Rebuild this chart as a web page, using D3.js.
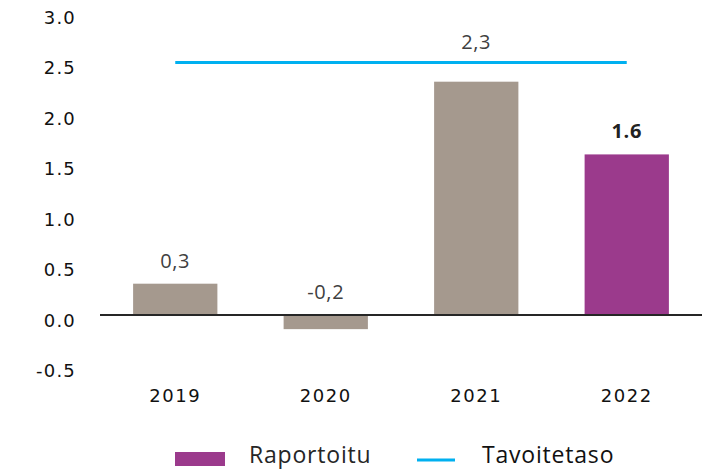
<!DOCTYPE html>
<html>
<head>
<meta charset="utf-8">
<script src="https://cdn.jsdelivr.net/npm/d3@7"></script>
<style>
  body { margin: 0; background: #fff; }
  svg { display: block; }
</style>
</head>
<body>
<div id="chart"></div>
<script>
const w = 706;
const h = 471;

// data
const years = ["2019", "2020", "2021", "2022"];
const reported = [0.31, -0.14, 2.31, 1.59];
const valueLabels = ["0,3", "-0,2", "2,3", "1.6"];
const target = [2.5, 2.5, 2.5, 2.5];
const yTicks = [-0.5, 0, 0.5, 1, 1.5, 2, 2.5, 3];
const legendNames = ["Raportoitu", "Tavoitetaso"];

const gray = "#a5998e";
const purple = "#9b3a8c";
const blue = "#00b0f0";

const svg = d3.select("#chart")
    .append("svg")
    .attr("width", w)
    .attr("height", h);

const x = d3.scaleBand()
    .domain(years)
    .range([100, 702])
    .paddingInner(0.44)
    .paddingOuter(0.22);

const y = d3.scaleLinear()
    .domain([-0.5, 3])
    .range([365.5, 12]);

// y axis: labels only, plain hyphen for negatives
const fmt = d3.format(".1f");
const yAxis = d3.axisLeft(y)
    .tickValues(yTicks)
    .tickFormat(d => fmt(d).replace("\u2212", "-"))
    .tickSize(0)
    .tickPadding(0);

svg.append("g")
    .attr("transform", "translate(76,0)")
    .call(yAxis)
    .call(g => g.select(".domain").remove())
    .selectAll("text")
    .attr("font-family", "DejaVu Sans")
    .attr("font-size", 18)
    .attr("letter-spacing", 1.2)
    .attr("fill", "#111")
    .attr("dy", "0.62em");

// bars
svg.selectAll("rect.bar")
    .data(reported)
    .enter()
    .append("rect")
    .attr("class", "bar")
    .attr("x", (d, i) => x(years[i]))
    .attr("y", d => y(Math.max(d, 0)))
    .attr("width", x.bandwidth())
    .attr("height", d => Math.abs(y(d) - y(0)))
    .attr("fill", (d, i) => i === years.length - 1 ? purple : gray);

// zero line
svg.append("line")
    .attr("x1", x.range()[0])
    .attr("x2", x.range()[1])
    .attr("y1", y(0))
    .attr("y2", y(0))
    .attr("stroke", "#262626")
    .attr("stroke-width", 2);

// target line
const line = d3.line()
    .x((d, i) => x(years[i]) + x.bandwidth() / 2)
    .y(d => y(d));

svg.append("path")
    .datum(target)
    .attr("d", line)
    .attr("fill", "none")
    .attr("stroke", blue)
    .attr("stroke-width", 3);

// value labels, lifted above the target line where they would hit it
svg.selectAll("text.val")
    .data(reported)
    .enter()
    .append("text")
    .attr("class", "val")
    .attr("x", (d, i) => x(years[i]) + x.bandwidth() / 2)
    .attr("y", (d, i) => {
        let top = y(Math.max(d, 0)) - 16;
        if (Math.abs(top - y(target[i])) < 20) top = y(target[i]) - 14;
        return top;
    })
    .attr("text-anchor", "middle")
    .attr("font-family", "Open Sans")
    .attr("font-size", 20)
    .attr("letter-spacing", 0.6)
    .attr("font-weight", (d, i) => i === years.length - 1 ? "bold" : "normal")
    .attr("fill", (d, i) => i === years.length - 1 ? "#222" : "#404040")
    .text((d, i) => valueLabels[i]);

// x axis labels
const xAxis = d3.axisBottom(x).tickSize(0).tickPadding(0);
svg.append("g")
    .attr("transform", "translate(0,388)")
    .call(xAxis)
    .call(g => g.select(".domain").remove())
    .selectAll("text")
    .attr("font-family", "DejaVu Sans")
    .attr("font-size", 18)
    .attr("letter-spacing", 1.5)
    .attr("fill", "#111")
    .attr("dy", "0.75em");

// legend
const legend = svg.append("g");
legend.append("rect")
    .attr("x", 175)
    .attr("y", 452)
    .attr("width", 50)
    .attr("height", 14)
    .attr("fill", purple);
legend.append("text")
    .attr("x", 249)
    .attr("y", 463)
    .attr("font-family", "Open Sans")
    .attr("font-size", 23)
    .attr("letter-spacing", 0.8)
    .attr("fill", "#262626")
    .text(legendNames[0]);
legend.append("line")
    .attr("x1", 417)
    .attr("x2", 455)
    .attr("y1", 460)
    .attr("y2", 460)
    .attr("stroke", blue)
    .attr("stroke-width", 3);
legend.append("text")
    .attr("x", 482)
    .attr("y", 463)
    .attr("font-family", "Open Sans")
    .attr("font-size", 23)
    .attr("letter-spacing", 0.8)
    .attr("fill", "#111")
    .text(legendNames[1]);
</script>
</body>
</html>
